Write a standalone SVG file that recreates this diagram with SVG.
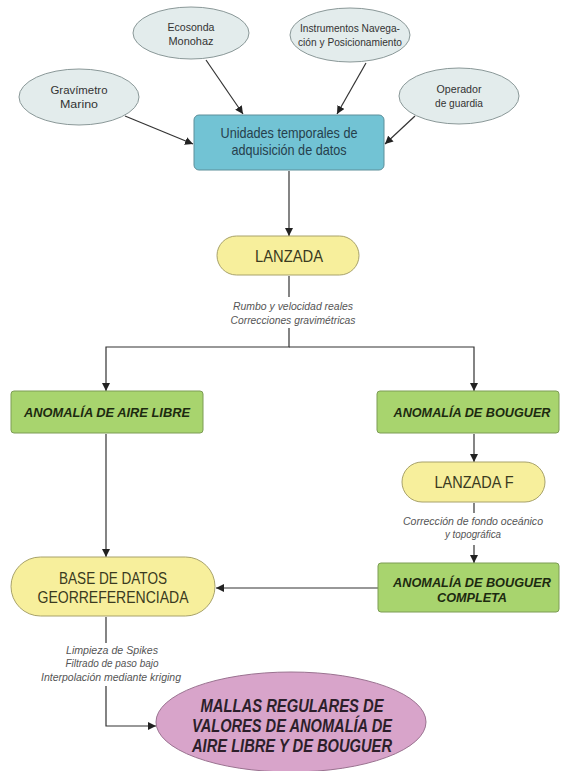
<svg xmlns="http://www.w3.org/2000/svg" width="563" height="771" viewBox="0 0 563 771">
<defs>
<marker id="arr" viewBox="0 0 10 10" refX="10" refY="5" markerWidth="8" markerHeight="8" markerUnits="userSpaceOnUse" orient="auto">
<path d="M0,0 L10,5 L0,10 z" fill="#222"/>
</marker>
<style>
text{font-family:"Liberation Sans",Arial,sans-serif;text-anchor:middle}
.src{fill:#e3ecec;stroke:#8a9898;stroke-width:1}
.srct{font-size:11px;fill:#333}
.blue{fill:#72c3d4;stroke:#5d8f9a;stroke-width:1}
.bluet{font-size:15px;fill:#26404c}
.yel{fill:#f7ef9c;stroke:#a8a26a;stroke-width:1}
.yelt{font-size:16px;fill:#3a3a20}
.grn{fill:#a8d46e;stroke:#7d9c55;stroke-width:1}
.grnt{font-size:13px;font-weight:bold;font-style:italic;fill:#1d2a10}
.pur{fill:#d8a4ca;stroke:#9a7290;stroke-width:1}
.purt{font-size:18px;font-weight:bold;font-style:italic;fill:#2c1f2a}
.lbl{font-size:11px;font-style:italic;fill:#555}
.ln{fill:none;stroke:#333;stroke-width:1.2}
</style>
</defs>
<rect width="563" height="771" fill="#fff"/>

<g id="connectors">
<line class="ln" x1="125" y1="116" x2="193" y2="144" marker-end="url(#arr)"/>
<line class="ln" x1="206" y1="60" x2="243" y2="114" marker-end="url(#arr)"/>
<line class="ln" x1="366" y1="63" x2="337" y2="114" marker-end="url(#arr)"/>
<line class="ln" x1="415" y1="116" x2="385" y2="144" marker-end="url(#arr)"/>
<line class="ln" x1="289" y1="171" x2="289" y2="236" marker-end="url(#arr)"/>
<line class="ln" x1="289" y1="276" x2="289" y2="297"/>
<polyline class="ln" points="289,328 289,347 106,347 106,391" marker-end="url(#arr)"/>
<polyline class="ln" points="289,347 474,347 474,391" marker-end="url(#arr)"/>
<line class="ln" x1="106" y1="434" x2="106" y2="557" marker-end="url(#arr)"/>
<line class="ln" x1="474" y1="434" x2="474" y2="462" marker-end="url(#arr)"/>
<line class="ln" x1="474" y1="503" x2="474" y2="513"/>
<line class="ln" x1="474" y1="545" x2="474" y2="563" marker-end="url(#arr)"/>
<line class="ln" x1="378" y1="588" x2="216" y2="588" marker-end="url(#arr)"/>
<line class="ln" x1="106" y1="617" x2="106" y2="643"/>
<polyline class="ln" points="106,686 106,726 156,726" marker-end="url(#arr)"/>
</g>

<g id="gravimetro">
<ellipse class="src" cx="79" cy="97" rx="60" ry="28"/>
<text class="srct" x="79" y="94" textLength="57" lengthAdjust="spacingAndGlyphs">Gravímetro</text>
<text class="srct" x="79" y="108" textLength="38" lengthAdjust="spacingAndGlyphs">Marino</text>
</g>
<g id="ecosonda">
<ellipse class="src" cx="191" cy="33" rx="58" ry="26"/>
<text class="srct" x="191" y="31" textLength="47" lengthAdjust="spacingAndGlyphs">Ecosonda</text>
<text class="srct" x="191" y="45" textLength="45" lengthAdjust="spacingAndGlyphs">Monohaz</text>
</g>
<g id="instrumentos">
<ellipse class="src" cx="350" cy="35" rx="60" ry="27"/>
<text class="srct" x="350" y="32" textLength="100" lengthAdjust="spacingAndGlyphs">Instrumentos Navega-</text>
<text class="srct" x="350" y="46" textLength="104" lengthAdjust="spacingAndGlyphs">ción y Posicionamiento</text>
</g>
<g id="operador">
<ellipse class="src" cx="459" cy="96" rx="60" ry="28"/>
<text class="srct" x="459" y="93" textLength="45" lengthAdjust="spacingAndGlyphs">Operador</text>
<text class="srct" x="459" y="107" textLength="48" lengthAdjust="spacingAndGlyphs">de guardia</text>
</g>

<g id="unidades">
<rect class="blue" x="194" y="115" width="190" height="55" rx="5"/>
<text class="bluet" x="289" y="138" textLength="137" lengthAdjust="spacingAndGlyphs">Unidades temporales de</text>
<text class="bluet" x="289" y="155" textLength="115" lengthAdjust="spacingAndGlyphs">adquisición de datos</text>
</g>

<g id="lanzada">
<rect class="yel" x="217" y="236" width="142" height="39" rx="19.5"/>
<text class="yelt" x="289" y="262" textLength="68" lengthAdjust="spacingAndGlyphs">LANZADA</text>
</g>
<g id="label1">
<text class="lbl" x="293" y="310" textLength="120" lengthAdjust="spacingAndGlyphs">Rumbo y velocidad reales</text>
<text class="lbl" x="293" y="324" textLength="125" lengthAdjust="spacingAndGlyphs">Correcciones gravimétricas</text>
</g>

<g id="aire-libre">
<rect class="grn" x="11" y="391" width="192" height="42" rx="3"/>
<text class="grnt" x="107" y="417" textLength="166" lengthAdjust="spacingAndGlyphs">ANOMALÍA DE AIRE LIBRE</text>
</g>
<g id="bouguer">
<rect class="grn" x="377" y="391" width="182" height="42" rx="3"/>
<text class="grnt" x="472" y="417" textLength="157" lengthAdjust="spacingAndGlyphs">ANOMALÍA DE BOUGUER</text>
</g>

<g id="lanzada-f">
<rect class="yel" x="402" y="462" width="143" height="40" rx="20"/>
<text class="yelt" x="474" y="488" textLength="79" lengthAdjust="spacingAndGlyphs">LANZADA F</text>
</g>
<g id="label2">
<text class="lbl" x="473" y="525" textLength="140" lengthAdjust="spacingAndGlyphs">Corrección de fondo oceánico</text>
<text class="lbl" x="473" y="538" textLength="56" lengthAdjust="spacingAndGlyphs">y topográfica</text>
</g>

<g id="bouguer-completa">
<rect class="grn" x="378" y="563" width="181" height="49" rx="3"/>
<text class="grnt" x="472" y="587" textLength="158" lengthAdjust="spacingAndGlyphs">ANOMALÍA DE BOUGUER</text>
<text class="grnt" x="472" y="602" textLength="70" lengthAdjust="spacingAndGlyphs">COMPLETA</text>
</g>

<g id="base-datos">
<rect class="yel" x="11" y="557" width="204" height="59" rx="29.5"/>
<text class="yelt" x="113" y="584" textLength="108" lengthAdjust="spacingAndGlyphs">BASE DE DATOS</text>
<text class="yelt" x="113" y="603" textLength="151" lengthAdjust="spacingAndGlyphs">GEORREFERENCIADA</text>
</g>
<g id="label3">
<text class="lbl" x="112" y="654" textLength="92" lengthAdjust="spacingAndGlyphs">Limpieza de Spikes</text>
<text class="lbl" x="112" y="667" textLength="93" lengthAdjust="spacingAndGlyphs">Filtrado de paso bajo</text>
<text class="lbl" x="111" y="681" textLength="140" lengthAdjust="spacingAndGlyphs">Interpolación mediante kriging</text>
</g>

<g id="mallas">
<ellipse class="pur" cx="291" cy="722" rx="135" ry="50"/>
<text class="purt" x="292" y="712" textLength="183" lengthAdjust="spacingAndGlyphs">MALLAS REGULARES DE</text>
<text class="purt" x="292" y="732" textLength="200" lengthAdjust="spacingAndGlyphs">VALORES DE ANOMALÍA DE</text>
<text class="purt" x="292" y="752" textLength="200" lengthAdjust="spacingAndGlyphs">AIRE LIBRE Y DE BOUGUER</text>
</g>
</svg>
